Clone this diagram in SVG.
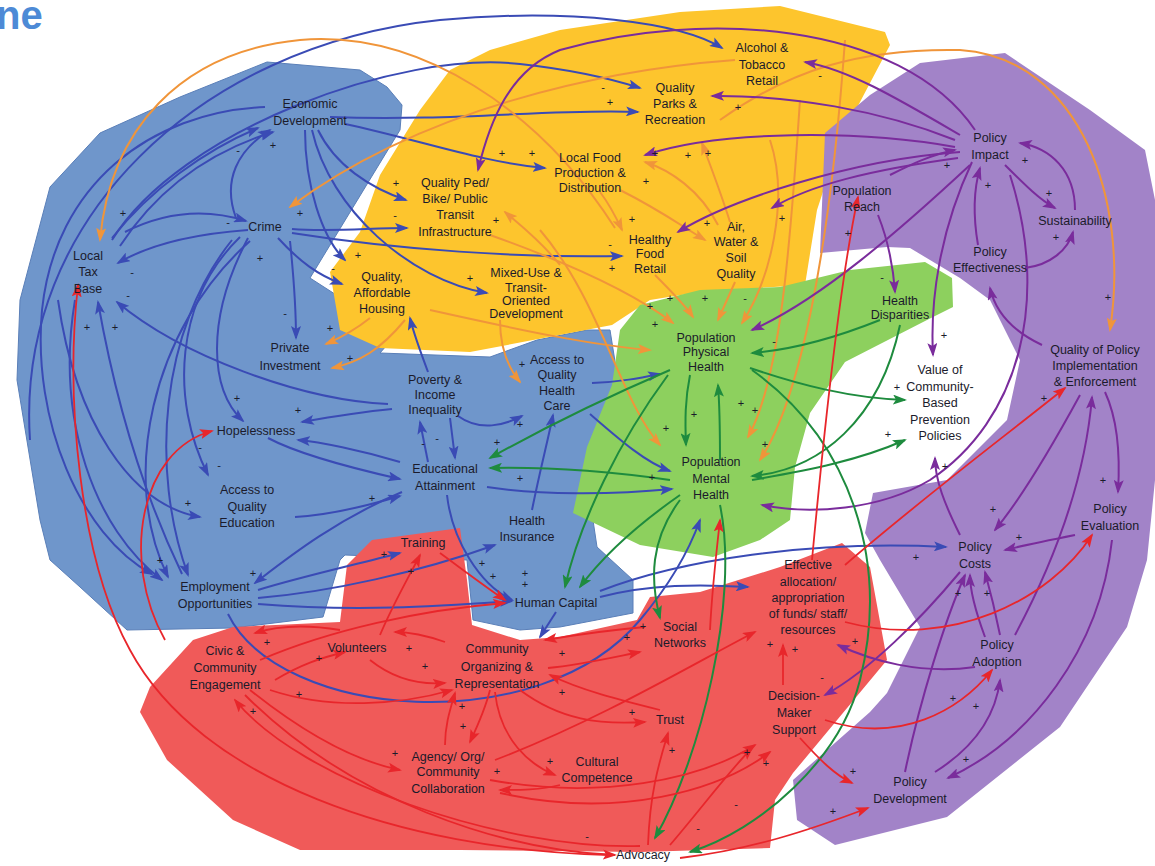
<svg xmlns="http://www.w3.org/2000/svg" width="1155" height="866" viewBox="0 0 1155 866">
<defs>
<style>
.t{font-family:"Liberation Sans",Arial,sans-serif;font-size:12.5px;fill:#1b1b2b;text-anchor:middle}
.s{font-family:"Liberation Sans",Arial,sans-serif;font-size:11px;fill:#1b1b2b;text-anchor:middle}
.c path{fill:none;stroke-width:2}
.b path{stroke:#3a4bb5;marker-end:url(#mb)}
.o path{stroke:#f0953a;marker-end:url(#mo)}
.p path{stroke:#7a2c9c;marker-end:url(#mp)}
.g path{stroke:#1e8b3e;marker-end:url(#mg)}
.r path{stroke:#e8262b;stroke-width:1.8;marker-end:url(#mr)}
</style>
<marker id="mb" viewBox="0 0 14 10" refX="12" refY="5" markerWidth="14" markerHeight="10" markerUnits="userSpaceOnUse" orient="auto"><path d="M0,0 L14,5 L0,10 L3,5 z" fill="#3a4bb5"/></marker>
<marker id="mo" viewBox="0 0 14 10" refX="12" refY="5" markerWidth="14" markerHeight="10" markerUnits="userSpaceOnUse" orient="auto"><path d="M0,0 L14,5 L0,10 L3,5 z" fill="#f0953a"/></marker>
<marker id="mp" viewBox="0 0 14 10" refX="12" refY="5" markerWidth="14" markerHeight="10" markerUnits="userSpaceOnUse" orient="auto"><path d="M0,0 L14,5 L0,10 L3,5 z" fill="#7a2c9c"/></marker>
<marker id="mg" viewBox="0 0 14 10" refX="12" refY="5" markerWidth="14" markerHeight="10" markerUnits="userSpaceOnUse" orient="auto"><path d="M0,0 L14,5 L0,10 L3,5 z" fill="#1e8b3e"/></marker>
<marker id="mr" viewBox="0 0 14 10" refX="12" refY="5" markerWidth="14" markerHeight="10" markerUnits="userSpaceOnUse" orient="auto"><path d="M0,0 L14,5 L0,10 L3,5 z" fill="#e8262b"/></marker>
</defs>
<rect width="1155" height="866" fill="#ffffff"/>
<text x="-4" y="29" font-family="Liberation Sans,Arial,sans-serif" font-size="40" font-weight="bold" fill="#4d8ad6">ne</text>

<g id="regions">
<path id="region-blue" fill="#6f96cb" stroke="#5a7fb8" stroke-width="1" d="M180,97 L267,62 L360,70 L387,87 L402,105 L400,130 L310,278 L355,307 L400,330 L380,353 L490,357 L537,340 L587,330 L610,330 L620,393 L587,480 L597,547 L633,580 L633,613 L560,627 L520,630 L473,620 L467,560 L345,555 L340,560 L323,617 L233,628 L127,630 L80,587 L50,560 L40,520 L17,380 L20,300 L50,187 L100,133 Z"/>
<path id="region-yellow" fill="#fdc52d" d="M490,50 L560,30 L680,12 L780,6 L885,32 L890,45 L840,140 L817,210 L805,285 L700,292 L650,300 L612,325 L470,352 L380,348 L340,330 L330,272 L360,232 L380,175 L420,110 L450,70 Z"/>
<path id="region-green" fill="#8dd05e" d="M640,305 L700,290 L780,287 L850,270 L925,262 L952,278 L953,307 L927,320 L845,362 L810,413 L795,467 L790,520 L760,540 L713,557 L640,545 L573,513 L587,447 L612,385 L620,330 Z"/>
<path id="region-purple" fill="#a283c8" d="M825,133 L870,95 L920,63 L1005,53 L1090,110 L1145,150 L1155,200 L1155,480 L1147,560 L1127,627 L1060,727 L947,817 L835,845 L797,820 L793,780 L870,712 L887,693 L920,627 L880,560 L865,533 L873,493 L947,480 L1007,420 L1020,360 L990,300 L960,278 L910,248 L887,247 L820,253 Z"/>
<path id="region-red" fill="#f05a59" d="M193,640 L233,627 L340,622 L347,565 L372,540 L460,528 L467,580 L472,625 L520,640 L560,637 L637,620 L650,597 L700,592 L780,567 L842,543 L870,567 L887,660 L793,773 L775,800 L770,848 L640,852 L460,850 L300,850 L233,820 L167,760 L140,712 L150,687 Z"/>
</g>

<g id="connectors" class="c">
<g class="b">
<path d="M30,440 C15,220 200,45 440,20 C570,8 680,22 722,48"/>
<path d="M112,240 C180,130 400,50 520,64 C575,70 615,80 640,88"/>
<path d="M330,117 C450,122 560,108 638,112"/>
<path d="M345,124 C420,140 480,162 545,168"/>
<path d="M318,130 C335,165 370,188 406,200"/>
<path d="M292,229 C330,232 370,228 407,228"/>
<path d="M292,233 C400,250 520,258 622,256"/>
<path d="M312,130 C330,210 410,280 487,293"/>
<path d="M278,238 C300,262 318,275 342,284"/>
<path d="M305,130 C305,185 322,238 345,260"/>
<path d="M290,241 C294,280 296,310 296,338"/>
<path d="M248,230 C180,235 140,250 118,263"/>
<path d="M112,238 C150,190 205,150 258,128"/>
<path d="M120,246 C160,185 215,150 273,132"/>
<path d="M125,232 C165,212 205,208 246,221"/>
<path d="M236,218 C222,180 238,150 270,130"/>
<path d="M265,107 C150,112 55,185 42,310 C32,420 80,535 152,574"/>
<path d="M240,237 C175,300 170,400 208,475"/>
<path d="M248,238 C205,320 210,390 243,421"/>
<path d="M75,300 C55,420 95,530 162,580"/>
<path d="M182,574 C132,470 110,370 98,302"/>
<path d="M388,404 C300,400 180,355 117,302"/>
<path d="M392,409 C360,412 330,417 302,422"/>
<path d="M268,438 C300,455 360,470 400,479"/>
<path d="M400,462 C360,450 320,442 298,440"/>
<path d="M295,517 C330,515 370,505 400,496"/>
<path d="M58,300 C75,420 130,505 200,517"/>
<path d="M402,492 C335,520 285,560 255,583"/>
<path d="M487,487 C540,495 610,495 672,489"/>
<path d="M447,495 C452,540 480,585 512,600"/>
<path d="M450,418 L455,458"/>
<path d="M428,462 L420,422"/>
<path d="M458,416 C480,432 505,425 522,416"/>
<path d="M532,510 C540,470 548,440 553,415"/>
<path d="M592,383 C620,382 640,378 660,374"/>
<path d="M590,414 C620,440 645,462 670,471"/>
<path d="M428,372 C420,350 414,335 410,318"/>
<path d="M258,590 C300,577 350,566 400,553"/>
<path d="M258,598 C330,592 420,572 495,545"/>
<path d="M258,604 C360,612 440,606 512,601"/>
<path d="M228,614 C280,720 540,740 640,620 C672,582 690,548 700,520"/>
<path d="M600,597 C650,584 700,584 748,587"/>
<path d="M556,612 L540,637"/>
<path d="M600,591 C680,560 810,540 946,547"/>
<path d="M250,241 C150,330 120,480 168,577"/>
<path d="M232,240 C160,330 150,470 188,575"/>
</g>
<g class="o">
<path d="M615,228 C540,110 420,30 300,40 C180,52 110,130 100,240"/>
<path d="M735,60 C600,70 420,110 290,207"/>
<path d="M720,120 C790,70 860,48 960,50 C1080,58 1130,200 1110,330"/>
<path d="M600,192 C610,205 615,215 622,230"/>
<path d="M620,190 C660,210 680,225 705,240"/>
<path d="M718,225 C700,190 670,170 645,162"/>
<path d="M730,222 C720,190 710,165 702,143"/>
<path d="M430,310 C520,330 590,345 650,350"/>
<path d="M490,235 C560,260 630,290 673,323"/>
<path d="M655,275 C670,290 685,305 693,317"/>
<path d="M735,282 L718,320"/>
<path d="M770,140 C790,200 770,280 742,323"/>
<path d="M540,230 C600,300 620,400 660,445"/>
<path d="M800,100 C790,250 780,380 748,437"/>
<path d="M845,40 C830,250 800,400 760,460"/>
<path d="M500,320 C500,350 510,370 520,382"/>
<path d="M560,265 C540,240 520,225 505,212"/>
<path d="M370,318 C355,330 340,338 326,344"/>
<path d="M405,320 C380,350 360,362 332,368"/>
</g>
<g class="p">
<path d="M960,135 C900,100 850,70 805,62"/>
<path d="M955,140 C880,110 790,95 712,96"/>
<path d="M955,147 C860,130 720,130 645,155"/>
<path d="M960,152 C850,160 730,200 678,232"/>
<path d="M958,158 C870,170 810,185 772,208"/>
<path d="M975,130 C900,20 700,10 560,50 C510,70 490,120 478,170"/>
<path d="M970,165 C900,230 820,300 752,330"/>
<path d="M890,175 C910,165 930,155 955,150"/>
<path d="M878,215 C888,240 893,265 895,292"/>
<path d="M1005,165 C1025,185 1040,200 1055,208"/>
<path d="M1075,210 C1075,170 1050,148 1020,143"/>
<path d="M978,245 C972,210 975,185 980,168"/>
<path d="M1025,268 C1050,265 1068,250 1073,232"/>
<path d="M972,162 C940,230 930,300 933,355"/>
<path d="M1042,345 C1010,330 995,310 990,288"/>
<path d="M1010,175 C1050,300 1020,420 930,480 C880,510 810,515 762,505"/>
<path d="M1080,395 C1050,450 1020,500 995,530"/>
<path d="M1105,392 C1118,420 1120,460 1118,492"/>
<path d="M1075,535 C1050,540 1025,545 1005,550"/>
<path d="M960,535 C945,505 935,480 935,458"/>
<path d="M1000,635 C995,610 990,590 985,572"/>
<path d="M985,637 C975,610 970,590 970,575"/>
<path d="M975,667 C920,675 870,660 838,645"/>
<path d="M960,572 C920,620 870,670 825,695"/>
<path d="M935,772 C970,750 995,720 1000,680"/>
<path d="M1112,540 C1100,650 1030,740 948,778"/>
<path d="M905,772 C920,700 945,620 965,575"/>
<path d="M1015,635 C1055,560 1085,480 1092,397"/>
</g>
<g class="g">
<path d="M670,370 C600,400 540,430 490,458"/>
<path d="M670,480 C600,470 540,467 490,468"/>
<path d="M690,375 C685,400 685,420 686,445"/>
<path d="M720,460 C720,430 720,410 718,385"/>
<path d="M750,368 C800,385 850,398 905,400"/>
<path d="M752,480 C810,470 860,460 905,440"/>
<path d="M880,320 C830,340 790,350 752,353"/>
<path d="M900,325 C880,420 820,470 752,476"/>
<path d="M668,375 C620,440 580,520 565,587"/>
<path d="M680,495 C630,530 600,560 580,587"/>
<path d="M680,500 C650,540 650,580 660,618"/>
<path d="M752,370 C850,440 890,560 860,680 C840,760 760,830 690,852"/>
<path d="M720,505 C740,600 700,760 655,838"/>
</g>
<g class="r">
<path d="M165,640 C120,560 140,450 212,431"/>
<path d="M610,855 C400,850 200,780 130,650 C80,560 65,400 78,285"/>
<path d="M275,680 C300,665 320,658 345,652"/>
<path d="M340,630 C310,625 280,625 255,633"/>
<path d="M380,635 C395,600 410,575 420,555"/>
<path d="M440,553 C470,575 490,590 505,600"/>
<path d="M260,660 C330,630 420,610 505,603"/>
<path d="M445,642 C425,635 410,632 395,632"/>
<path d="M370,660 C395,680 420,685 445,683"/>
<path d="M270,690 C330,710 400,705 452,690"/>
<path d="M548,668 C580,665 610,658 640,652"/>
<path d="M645,627 C610,630 575,635 545,640"/>
<path d="M660,710 C620,700 580,690 550,675"/>
<path d="M520,690 C560,720 600,725 645,722"/>
<path d="M490,690 C485,710 478,725 470,742"/>
<path d="M445,745 C445,725 450,710 455,693"/>
<path d="M495,692 C500,740 530,765 555,775"/>
<path d="M560,785 C540,790 520,790 500,790"/>
<path d="M495,760 C600,720 700,660 755,632"/>
<path d="M250,690 C300,730 350,760 400,770"/>
<path d="M245,695 C350,800 500,850 615,855"/>
<path d="M640,846 C500,850 300,780 235,700"/>
<path d="M648,845 C650,790 660,760 668,733"/>
<path d="M670,845 C700,810 730,770 752,748"/>
<path d="M680,858 C750,850 810,830 868,808"/>
<path d="M825,720 C900,745 960,710 992,670"/>
<path d="M800,738 C820,760 835,775 852,783"/>
<path d="M783,685 L783,645"/>
<path d="M845,565 C920,500 1000,440 1065,388"/>
<path d="M845,622 C950,650 1050,600 1092,535"/>
<path d="M812,560 C825,420 840,280 858,197"/>
<path d="M710,630 C712,590 716,555 720,520"/>
<path d="M490,780 C600,800 700,780 755,745"/>
<path d="M500,793 C620,820 720,790 770,752"/>
</g>
</g>

<g id="nodes">
<g id="n-econ"><text class="t" x="310" y="108">Economic</text><text class="t" x="310" y="125">Development</text></g>
<g id="n-crime"><text class="t" x="265" y="231">Crime</text></g>
<g id="n-taxbase"><text class="t" x="88" y="260">Local</text><text class="t" x="88" y="276">Tax</text><text class="t" x="88" y="293">Base</text></g>
<g id="n-pedbike"><text class="t" x="455" y="187">Quality Ped/</text><text class="t" x="455" y="203">Bike/ Public</text><text class="t" x="455" y="219">Transit</text><text class="t" x="455" y="236">Infrastructure</text></g>
<g id="n-localfood"><text class="t" x="590" y="162">Local Food</text><text class="t" x="590" y="177">Production &amp;</text><text class="t" x="590" y="192">Distribution</text></g>
<g id="n-parks"><text class="t" x="675" y="92">Quality</text><text class="t" x="675" y="108">Parks &amp;</text><text class="t" x="675" y="124">Recreation</text></g>
<g id="n-alcohol"><text class="t" x="762" y="52">Alcohol &amp;</text><text class="t" x="762" y="69">Tobacco</text><text class="t" x="762" y="85">Retail</text></g>
<g id="n-healthyfood"><text class="t" x="650" y="244">Healthy</text><text class="t" x="650" y="258">Food</text><text class="t" x="650" y="273">Retail</text></g>
<g id="n-air"><text class="t" x="736" y="231">Air,</text><text class="t" x="736" y="246">Water &amp;</text><text class="t" x="736" y="262">Soil</text><text class="t" x="736" y="278">Quality</text></g>
<g id="n-housing"><text class="t" x="382" y="281">Quality,</text><text class="t" x="382" y="297">Affordable</text><text class="t" x="382" y="313">Housing</text></g>
<g id="n-mixeduse"><text class="t" x="526" y="277">Mixed-Use &amp;</text><text class="t" x="526" y="292">Transit-</text><text class="t" x="526" y="305">Oriented</text><text class="t" x="526" y="318">Development</text></g>
<g id="n-private"><text class="t" x="290" y="352">Private</text><text class="t" x="290" y="370">Investment</text></g>
<g id="n-poverty"><text class="t" x="435" y="384">Poverty &amp;</text><text class="t" x="435" y="399">Income</text><text class="t" x="435" y="414">Inequality</text></g>
<g id="n-healthcare"><text class="t" x="557" y="364">Access to</text><text class="t" x="557" y="379">Quality</text><text class="t" x="557" y="395">Health</text><text class="t" x="557" y="410">Care</text></g>
<g id="n-hopeless"><text class="t" x="256" y="435">Hopelessness</text></g>
<g id="n-edu"><text class="t" x="445" y="473">Educational</text><text class="t" x="445" y="490">Attainment</text></g>
<g id="n-accessedu"><text class="t" x="247" y="494">Access to</text><text class="t" x="247" y="511">Quality</text><text class="t" x="247" y="527">Education</text></g>
<g id="n-insurance"><text class="t" x="527" y="525">Health</text><text class="t" x="527" y="541">Insurance</text></g>
<g id="n-employ"><text class="t" x="215" y="591">Employment</text><text class="t" x="215" y="608">Opportunities</text></g>
<g id="n-training"><text class="t" x="423" y="547">Training</text></g>
<g id="n-humancap"><text class="t" x="556" y="607">Human Capital</text></g>
<g id="n-pph"><text class="t" x="706" y="342">Population</text><text class="t" x="706" y="356">Physical</text><text class="t" x="706" y="371">Health</text></g>
<g id="n-pmh"><text class="t" x="711" y="466">Population</text><text class="t" x="711" y="483">Mental</text><text class="t" x="711" y="499">Health</text></g>
<g id="n-disparities"><text class="t" x="900" y="305">Health</text><text class="t" x="900" y="319">Disparities</text></g>
<g id="n-value"><text class="t" x="940" y="374">Value of</text><text class="t" x="940" y="391">Community-</text><text class="t" x="940" y="407">Based</text><text class="t" x="940" y="424">Prevention</text><text class="t" x="940" y="440">Policies</text></g>
<g id="n-reach"><text class="t" x="862" y="195">Population</text><text class="t" x="862" y="211">Reach</text></g>
<g id="n-impact"><text class="t" x="990" y="142">Policy</text><text class="t" x="990" y="159">Impact</text></g>
<g id="n-sustain"><text class="t" x="1075" y="225">Sustainability</text></g>
<g id="n-effectiveness"><text class="t" x="990" y="256">Policy</text><text class="t" x="990" y="272">Effectiveness</text></g>
<g id="n-qpi"><text class="t" x="1095" y="354">Quality of Policy</text><text class="t" x="1095" y="370">Implementation</text><text class="t" x="1095" y="386">&amp; Enforcement</text></g>
<g id="n-evaluation"><text class="t" x="1110" y="513">Policy</text><text class="t" x="1110" y="530">Evaluation</text></g>
<g id="n-costs"><text class="t" x="975" y="551">Policy</text><text class="t" x="975" y="568">Costs</text></g>
<g id="n-adoption"><text class="t" x="997" y="649">Policy</text><text class="t" x="997" y="666">Adoption</text></g>
<g id="n-development"><text class="t" x="910" y="786">Policy</text><text class="t" x="910" y="803">Development</text></g>
<g id="n-decision"><text class="t" x="794" y="700">Decision-</text><text class="t" x="794" y="717">Maker</text><text class="t" x="794" y="734">Support</text></g>
<g id="n-effective"><text class="t" x="808" y="569">Effective</text><text class="t" x="808" y="586">allocation/</text><text class="t" x="808" y="602">appropriation</text><text class="t" x="808" y="618">of funds/ staff/</text><text class="t" x="808" y="634">resources</text></g>
<g id="n-social"><text class="t" x="680" y="631">Social</text><text class="t" x="680" y="647">Networks</text></g>
<g id="n-community"><text class="t" x="497" y="653">Community</text><text class="t" x="497" y="671">Organizing &amp;</text><text class="t" x="497" y="688">Representation</text></g>
<g id="n-volunteers"><text class="t" x="357" y="652">Volunteers</text></g>
<g id="n-civic"><text class="t" x="225" y="655">Civic &amp;</text><text class="t" x="225" y="672">Community</text><text class="t" x="225" y="689">Engagement</text></g>
<g id="n-trust"><text class="t" x="670" y="724">Trust</text></g>
<g id="n-agency"><text class="t" x="448" y="761">Agency/ Org/</text><text class="t" x="448" y="776">Community</text><text class="t" x="448" y="793">Collaboration</text></g>
<g id="n-cultural"><text class="t" x="597" y="766">Cultural</text><text class="t" x="597" y="782">Competence</text></g>
<g id="n-advocacy"><text class="t" x="643" y="859">Advocacy</text></g>
</g>

<g id="signs">
<text class="s" x="238" y="154">-</text><text class="s" x="273" y="149">+</text><text class="s" x="123" y="217">+</text><text class="s" x="228" y="226">-</text>
<text class="s" x="300" y="217">+</text><text class="s" x="260" y="262">+</text><text class="s" x="132" y="276">-</text><text class="s" x="128" y="299">-</text>
<text class="s" x="358" y="259">+</text><text class="s" x="333" y="272">-</text><text class="s" x="603" y="91">-</text><text class="s" x="610" y="106">+</text>
<text class="s" x="502" y="157">+</text><text class="s" x="532" y="157">+</text><text class="s" x="396" y="187">+</text><text class="s" x="395" y="219">-</text>
<text class="s" x="496" y="224">+</text><text class="s" x="632" y="223">+</text><text class="s" x="646" y="185">+</text><text class="s" x="655" y="157">+</text>
<text class="s" x="688" y="159">+</text><text class="s" x="738" y="111">+</text><text class="s" x="708" y="157">+</text><text class="s" x="707" y="227">+</text>
<text class="s" x="610" y="248">-</text><text class="s" x="612" y="272">+</text><text class="s" x="470" y="282">+</text><text class="s" x="820" y="79">-</text>
<text class="s" x="947" y="169">+</text><text class="s" x="1025" y="164">+</text><text class="s" x="988" y="189">+</text><text class="s" x="1049" y="197">+</text>
<text class="s" x="1056" y="241">+</text><text class="s" x="848" y="237">+</text><text class="s" x="782" y="222">+</text><text class="s" x="882" y="281">-</text>
<text class="s" x="1108" y="301">+</text><text class="s" x="87" y="331">+</text><text class="s" x="115" y="331">+</text><text class="s" x="285" y="317">-</text>
<text class="s" x="330" y="332">+</text><text class="s" x="350" y="362">+</text><text class="s" x="237" y="402">+</text><text class="s" x="298" y="414">+</text>
<text class="s" x="200" y="451">-</text><text class="s" x="219" y="469">-</text><text class="s" x="188" y="507">+</text><text class="s" x="372" y="502">+</text>
<text class="s" x="160" y="564">+</text><text class="s" x="253" y="577">+</text><text class="s" x="520" y="428">+</text><text class="s" x="497" y="446">+</text>
<text class="s" x="437" y="442">-</text><text class="s" x="423" y="447">-</text><text class="s" x="522" y="368">+</text><text class="s" x="520" y="482">+</text>
<text class="s" x="650" y="310">+</text><text class="s" x="655" y="328">+</text><text class="s" x="670" y="302">+</text><text class="s" x="705" y="302">+</text>
<text class="s" x="745" y="302">-</text><text class="s" x="741" y="407">+</text><text class="s" x="694" y="418">+</text><text class="s" x="666" y="432">+</text>
<text class="s" x="755" y="414">+</text><text class="s" x="652" y="481">+</text><text class="s" x="765" y="448">+</text><text class="s" x="897" y="391">+</text>
<text class="s" x="888" y="438">+</text><text class="s" x="944" y="339">+</text><text class="s" x="945" y="470">+</text><text class="s" x="774" y="345">-</text>
<text class="s" x="1044" y="402">+</text><text class="s" x="1103" y="484">+</text><text class="s" x="993" y="513">+</text><text class="s" x="1019" y="541">+</text>
<text class="s" x="916" y="561">+</text><text class="s" x="958" y="597">+</text><text class="s" x="987" y="597">+</text><text class="s" x="855" y="645">+</text>
<text class="s" x="953" y="702">+</text><text class="s" x="976" y="710">+</text><text class="s" x="966" y="763">+</text><text class="s" x="853" y="775">+</text>
<text class="s" x="833" y="815">+</text><text class="s" x="795" y="653">+</text><text class="s" x="822" y="681">-</text><text class="s" x="770" y="648">+</text>
<text class="s" x="384" y="558">+</text><text class="s" x="411" y="575">+</text><text class="s" x="482" y="567">+</text><text class="s" x="493" y="580">+</text>
<text class="s" x="525" y="577">+</text><text class="s" x="525" y="588">+</text><text class="s" x="267" y="646">+</text><text class="s" x="319" y="662">+</text>
<text class="s" x="299" y="698">+</text><text class="s" x="253" y="715">+</text><text class="s" x="409" y="652">+</text><text class="s" x="425" y="670">+</text>
<text class="s" x="562" y="657">+</text><text class="s" x="627" y="641">+</text><text class="s" x="562" y="696">+</text><text class="s" x="462" y="710">+</text>
<text class="s" x="463" y="730">+</text><text class="s" x="550" y="765">+</text><text class="s" x="497" y="775">+</text><text class="s" x="395" y="757">+</text>
<text class="s" x="632" y="716">+</text><text class="s" x="672" y="754">+</text><text class="s" x="747" y="756">+</text><text class="s" x="766" y="767">+</text>
<text class="s" x="587" y="840">-</text><text class="s" x="698" y="832">-</text><text class="s" x="736" y="808">-</text><text class="s" x="643" y="630">+</text>
</g>
</svg>
